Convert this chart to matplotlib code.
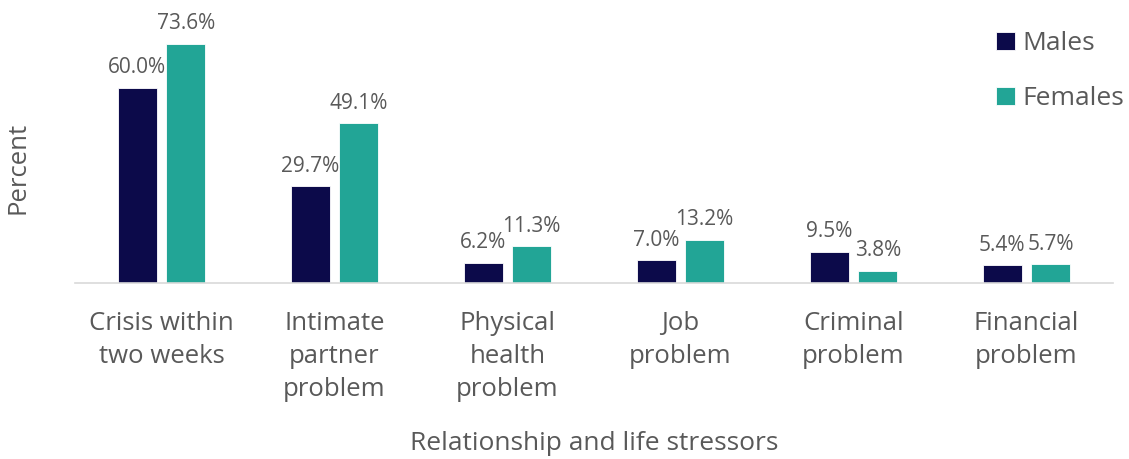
import numpy as np
import matplotlib.pyplot as plt

# Data
categories = ['Crisis within\ntwo weeks', 'Intimate\npartner\nproblem', 'Physical\nhealth\nproblem',
              'Job\nproblem', 'Criminal\nproblem', 'Financial\nproblem']
males = [60.0, 29.7, 6.2, 7.0, 9.5, 5.4]
females = [73.6, 49.1, 11.3, 13.2, 3.8, 5.7]

MALE_COLOR = '#0c0a4a'
FEMALE_COLOR = '#22a596'
TEXT_COLOR = '#595959'

plt.rcParams['font.family'] = ['Open Sans', 'DejaVu Sans']

fig = plt.figure(figsize=(11.29, 4.59), dpi=100)
ax = fig.add_axes([0.0664, 0.3834, 0.9194, 0.5665])

x = np.arange(len(categories))
width = 0.225
offset = 0.14

bars_m = ax.bar(x - offset, males, width, color=MALE_COLOR, edgecolor='white', linewidth=0.6, label='Males')
bars_f = ax.bar(x + offset, females, width, color=FEMALE_COLOR, edgecolor='white', linewidth=0.6, label='Females')

# Value labels above each bar
for bar, val in list(zip(bars_m, males)) + list(zip(bars_f, females)):
    ax.annotate(f"{val:.1f}%", (bar.get_x() + bar.get_width() / 2, val),
                xytext=(0, 7), textcoords='offset points',
                ha='center', va='bottom', fontsize=15, color=TEXT_COLOR)

ax.set_xlim(-0.5, len(categories) - 0.5)
ax.set_ylim(0, 80)
ax.set_yticks([])
ax.set_xticks(x)
ax.set_xticklabels(categories, fontsize=18.5, color=TEXT_COLOR, linespacing=1.42, va='top')
ax.tick_params(axis='x', length=0, pad=20)

for side in ['top', 'right', 'left']:
    ax.spines[side].set_visible(False)
ax.spines['bottom'].set_color('#d9d9d9')
ax.spines['bottom'].set_linewidth(1.2)

ax.set_xlabel('Relationship and life stressors', fontsize=19, color=TEXT_COLOR, labelpad=21)
fig.text(0.016, 0.634, 'Percent', rotation=90, fontsize=18.5, color=TEXT_COLOR,
         ha='center', va='center')

leg = ax.legend(loc='upper right', bbox_to_anchor=(1.034, 1.06), frameon=False, fontsize=19,
                handlelength=0.7, handleheight=0.7, handletextpad=0.3, labelspacing=1.15)
for t in leg.get_texts():
    t.set_color(TEXT_COLOR)

fig.savefig('out.png', dpi=100)
